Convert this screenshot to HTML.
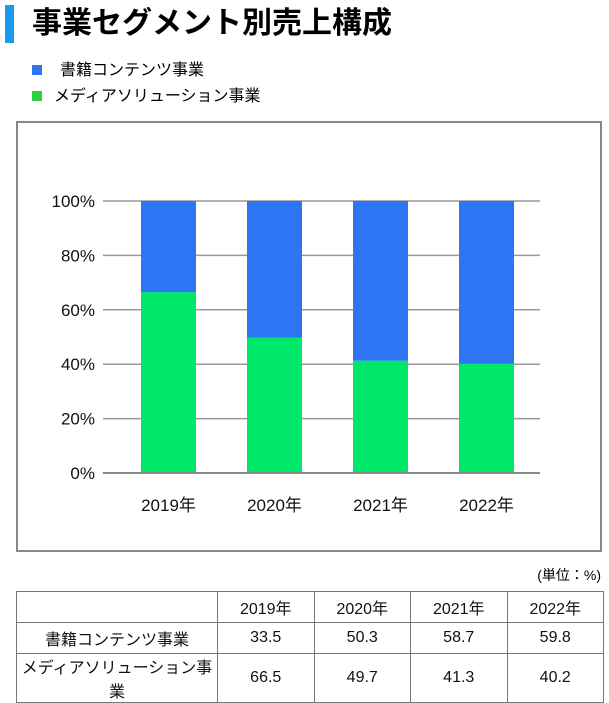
<!DOCTYPE html>
<html><head><meta charset="utf-8"><style>
body{margin:0;width:609px;height:693px;background:#fff;font-family:"Liberation Sans","Noto Sans CJK JP",sans-serif;position:relative;overflow:hidden}
.a{position:absolute}
table{border-collapse:collapse;position:absolute;left:16px;top:591px;width:588px;font-size:16px}
td{border:1px solid #777;height:30px;text-align:center;padding:0;color:#111}
</style></head><body>
<div class="a" style="left:5px;top:5px;width:9px;height:38px;background:#1a9bf0"></div>
<div class="a" style="left:32px;top:4px;font-size:30px;font-weight:bold;line-height:40px;color:#000">事業セグメント別売上構成</div>
<div class="a" style="left:32px;top:60px;font-size:16px;line-height:22px"><span style="display:inline-block;width:10px;height:10px;background:#2e75f6;margin-right:18px"></span>書籍コンテンツ事業</div>
<div class="a" style="left:32px;top:86px;font-size:16px;line-height:22px"><span style="display:inline-block;width:10px;height:10px;background:#33cc44;margin-right:12px"></span>メディアソリューション事業</div>
<div class="a" style="left:16px;top:121px;width:582px;height:427px;border:2px solid #888"></div>
<svg class="a" style="left:0;top:0" width="609" height="560" id="svg"></svg>
<div class="a" style="right:8px;top:565px;font-size:14px">(単位：%)</div>
<table>
<tr><td style="width:200px"></td><td>2019年</td><td>2020年</td><td>2021年</td><td>2022年</td></tr>
<tr><td>書籍コンテンツ事業</td><td>33.5</td><td>50.3</td><td>58.7</td><td>59.8</td></tr>
<tr><td>メディアソリューション事業</td><td>66.5</td><td>49.7</td><td>41.3</td><td>40.2</td></tr>
</table>
<script>
const categories=["2019年","2020年","2021年","2022年"];
const books=[33.5,50.3,58.7,59.8];
const media=[66.5,49.7,41.3,40.2];
const yTicks=[0,20,40,60,80,100];
const svg=document.getElementById('svg');const NS='http://www.w3.org/2000/svg';
const y0=473,y1=201,xL=103,xR=540;
const yS=v=>y0-(y0-y1)*v/100;
const xS=i=>141+i*106;
function mk(t,a){const e=document.createElementNS(NS,t);for(const k in a)e.setAttribute(k,a[k]);svg.appendChild(e);return e;}
yTicks.forEach(v=>{const l=mk('line',{x1:xL,x2:xR,y1:yS(v),y2:yS(v),stroke:'#999','stroke-width':1.5});

const t=mk('text',{x:95,y:yS(v)+6,'text-anchor':'end','font-size':17,fill:'#111'});t.textContent=v+'%';
});
categories.forEach((c,i)=>{const tot=books[i]+media[i];
const g=mk('rect',{x:xS(i),width:55,y:yS(media[i]/tot*100),height:y0-yS(media[i]/tot*100),fill:'#00e86a'});

const b=mk('rect',{x:xS(i),width:55,y:y1,height:yS(media[i]/tot*100)-y1,fill:'#2e75f6'});

const t=mk('text',{x:xS(i)+27.5,y:511,'text-anchor':'middle','font-size':17,fill:'#111'});t.textContent=c;
});
const ax=mk('line',{x1:xL,x2:xR,y1:y0,y2:y0,stroke:'#888','stroke-width':2});

</script>
</body></html>
